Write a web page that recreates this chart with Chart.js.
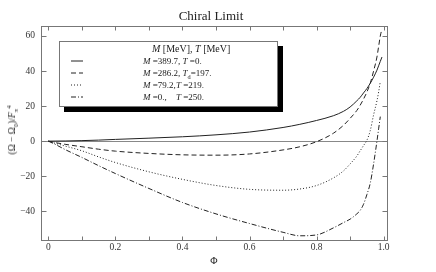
<!DOCTYPE html>
<html>
<head>
<meta charset="utf-8">
<script src="https://cdn.jsdelivr.net/npm/chart.js@4/dist/chart.umd.min.js"></script>
<style>
  html, body { margin: 0; padding: 0; background: #fff; }
  #wrap { position: relative; width: 436px; height: 272px; font-family: "Liberation Serif", "DejaVu Serif", serif; color: #222; }
  #wrap canvas { position: absolute; left: 0; top: 0; }
  .lbl { position: absolute; white-space: nowrap; }
  #title { left: 0; width: 422px; top: 8px; text-align: center; font-size: 13px; }
  #xtitle { left: 0; width: 428px; top: 255px; text-align: center; font-size: 10px; }
  #ytitle { left: 12px; top: 130px; font-size: 9.5px; transform: translate(-50%, -50%) rotate(-90deg); }
  #legend { position: absolute; left: 59px; top: 41px; width: 217px; height: 64px; background: #fff; border: 1px solid #777; box-shadow: 5px 5px 0 #000; font-size: 9px; }
  #legend .row { position: absolute; left: 0; height: 12px; line-height: 12px; }
  #legend svg { position: absolute; left: 11px; top: 5px; }
  sub, sup { font-size: 70%; line-height: 0; }
</style>
</head>
<body>
<div id="wrap">
  <canvas id="chart" width="436" height="272"></canvas>
  <div id="title" class="lbl">Chiral Limit</div>
  <div id="xtitle" class="lbl">Φ</div>
  <div id="ytitle" class="lbl">(Ω − Ω<sub>0</sub>)/<i>F</i><sub>π</sub><sup>4</sup></div>
  <div id="legend"></div>
</div>
<script>
// Φ grid shared by all curves
const phi = [0, 0.02, 0.05, 0.1, 0.15, 0.2, 0.3, 0.4, 0.5, 0.6, 0.7, 0.75, 0.8, 0.85, 0.88, 0.9, 0.92, 0.93, 0.94, 0.95, 0.96, 0.97, 0.98, 0.985, 0.99, 0.995];

// (Ω − Ω0)/Fπ^4
const solidT0 = [0, 0.05, 0.1, 0.3, 0.6, 1.0, 1.7, 2.5, 3.6, 5.2, 7.8, 9.6, 11.8, 14.5, 17, 19.5, 23, 25, 27.5, 30, 33, 36.5, 40.5, 43, 45.5, 48];
const dashedTd = [0, -0.8, -1.8, -3.2, -4.6, -5.7, -7.0, -7.8, -8.0, -7.3, -5.0, -3.2, -0.3, 4.5, 9, 13, 17.5, 20.5, 24, 28, 33, 40, 48, 54, 60, 64];
const dotted219 = [0, -1.2, -2.8, -5.5, -9.0, -12.2, -17.5, -21.8, -25.3, -27.5, -28.0, -27.3, -25.3, -21, -17, -13, -8.5, -5.5, -2.5, 0.5, 6, 15, 23, 28, 34, null];
const dashDot250 = [0, -1.8, -4.8, -9.3, -14, -18.5, -27, -35, -41.5, -47, -52, -54.0, -53.5, -49.5, -46.5, -44.5, -41.5, -39.5, -36, -30.5, -24, -13, 0, 7, 14, null];

const seriesNames = ["M=389.7, T=0.", "M=286.2, Td=197.", "M=79.2, T=219.", "M=0., T=250."];
const seriesDash = [[], [5, 3], [1, 2], [5, 2, 1, 2]];

// tick labels
const xLabels = ["0", "0.2", "0.4", "0.6", "0.8", "1.0"];
const yLabels = ["60", "40", "20", "0", "−20", "−40"];
const xMajor = [0, 0.1, 0.2, 0.3, 0.4, 0.5, 0.6, 0.7, 0.8, 0.9, 1.0];
const yMajor = [-40, -20, 0, 20, 40, 60];

const X_MIN = -0.022, X_MAX = 1.01;
const Y_MIN = -56.4, Y_MAX = 65.7;

function toPoints(ys) {
    return phi.map((x, i) => ({ x, y: ys[i] }));
}

const allSeries = [solidT0, dashedTd, dotted219, dashDot250];

// frame, inward ticks and zero line
const framePlugin = {
    id: "frame",
    beforeDatasetsDraw(chart) {
        const { ctx, chartArea: a, scales } = chart;
        const y0 = Math.round(scales.y.getPixelForValue(0)) + 0.5;
        ctx.save();
        ctx.strokeStyle = "#888";
        ctx.lineWidth = 1;
        ctx.beginPath();
        ctx.moveTo(a.left, y0);
        ctx.lineTo(a.right, y0);
        ctx.stroke();
        ctx.restore();
    },
    afterDraw(chart) {
        const { ctx, chartArea: a, scales } = chart;
        const L = Math.round(a.left) + 0.5, R = Math.round(a.right) + 0.5;
        const T = Math.round(a.top) + 0.5, B = Math.round(a.bottom) + 0.5;
        ctx.save();
        ctx.strokeStyle = "#777";
        ctx.lineWidth = 1;
        ctx.strokeRect(L, T, R - L, B - T);
        ctx.beginPath();
        xMajor.forEach((v) => {
            const px = Math.round(scales.x.getPixelForValue(v)) + 0.5;
            ctx.moveTo(px, B); ctx.lineTo(px, B - 4);
            ctx.moveTo(px, T); ctx.lineTo(px, T + 4);
        });
        yMajor.forEach((v) => {
            const py = Math.round(scales.y.getPixelForValue(v)) + 0.5;
            ctx.moveTo(L, py); ctx.lineTo(L + 5, py);
            ctx.moveTo(R, py); ctx.lineTo(R - 5, py);
        });
        ctx.stroke();
        ctx.restore();
    },
};

new Chart(document.getElementById("chart"), {
    type: "line",
    data: {
        datasets: allSeries.map((ys, i) => ({
            label: seriesNames[i],
            data: toPoints(ys),
            borderColor: "#222",
            borderWidth: 1,
            borderDash: seriesDash[i],
            pointRadius: 0,
            fill: false,
            cubicInterpolationMode: "monotone",
        })),
    },
    options: {
        responsive: false,
        animation: false,
        layout: { padding: { top: 26, right: 49, left: 0, bottom: 0 } },
        plugins: { legend: { display: false }, title: { display: false }, tooltip: { enabled: false } },
        scales: {
            x: {
                type: "linear",
                min: X_MIN,
                max: X_MAX,
                afterFit: (s) => { s.height = 32; },
                grid: { display: false, drawTicks: false },
                border: { display: false },
                ticks: {
                    stepSize: 0.1,
                    includeBounds: false,
                    autoSkip: false,
                    maxRotation: 0,
                    padding: 2,
                    color: "#333",
                    font: { family: "Liberation Serif", size: 9.5 },
                    callback: (v) => {
                        const r = Math.round(v * 10);
                        if (Math.abs(v * 10 - r) > 1e-6 || r < 0 || r % 2) return "";
                        return xLabels[r / 2] || "";
                    },
                },
            },
            y: {
                type: "linear",
                min: Y_MIN,
                max: Y_MAX,
                afterFit: (s) => { s.width = 41; },
                grid: { display: false, drawTicks: false },
                border: { display: false },
                ticks: {
                    stepSize: 20,
                    includeBounds: false,
                    autoSkip: false,
                    padding: 6,
                    color: "#333",
                    font: { family: "Liberation Serif", size: 9.5 },
                    callback: (v) => {
                        const idx = yMajor.indexOf(Math.round(v));
                        if (idx < 0 || Math.abs(v - Math.round(v)) > 1e-6) return "";
                        return yLabels[yMajor.length - 1 - idx];
                    },
                },
            },
        },
    },
    plugins: [framePlugin],
});

// legend box (HTML text, SVG line samples)
(function () {
    const box = document.getElementById("legend");
    const rows = [
        { top: 1, html: '<span style="position:absolute;left:92px"><i>M</i> [MeV], <i>T</i> [MeV]</span>', title: true },
        { top: 13, html: '<span style="position:absolute;left:83px"><i>M</i> =389.7, <i>T</i> =0.</span>', dash: seriesDash[0] },
        { top: 25, html: '<span style="position:absolute;left:83px"><i>M</i> =286.2, <i>T</i><sub>d</sub>=197.</span>', dash: seriesDash[1] },
        { top: 37, html: '<span style="position:absolute;left:83px"><i>M</i> =79.2,</span><span style="position:absolute;left:116px"><i>T</i> =219.</span>', dash: seriesDash[2] },
        { top: 49, html: '<span style="position:absolute;left:83px"><i>M</i> =0.,</span><span style="position:absolute;left:116px"><i>T</i> =250.</span>', dash: seriesDash[3] },
    ];
    rows.forEach((r) => {
        const d = document.createElement("div");
        d.className = "row";
        d.style.top = r.top + "px";
        d.style.width = "217px";
        d.style.fontSize = r.title ? "10px" : "9px";
        let svg = "";
        if (!r.title) {
            svg = `<svg width="14" height="2"><line x1="0" y1="1" x2="12" y2="1" stroke="#222" stroke-width="1" stroke-dasharray="${r.dash.join(" ") || "none"}"/></svg>`;
        }
        d.innerHTML = svg + r.html;
        box.appendChild(d);
    });
})();
</script>
</body>
</html>
